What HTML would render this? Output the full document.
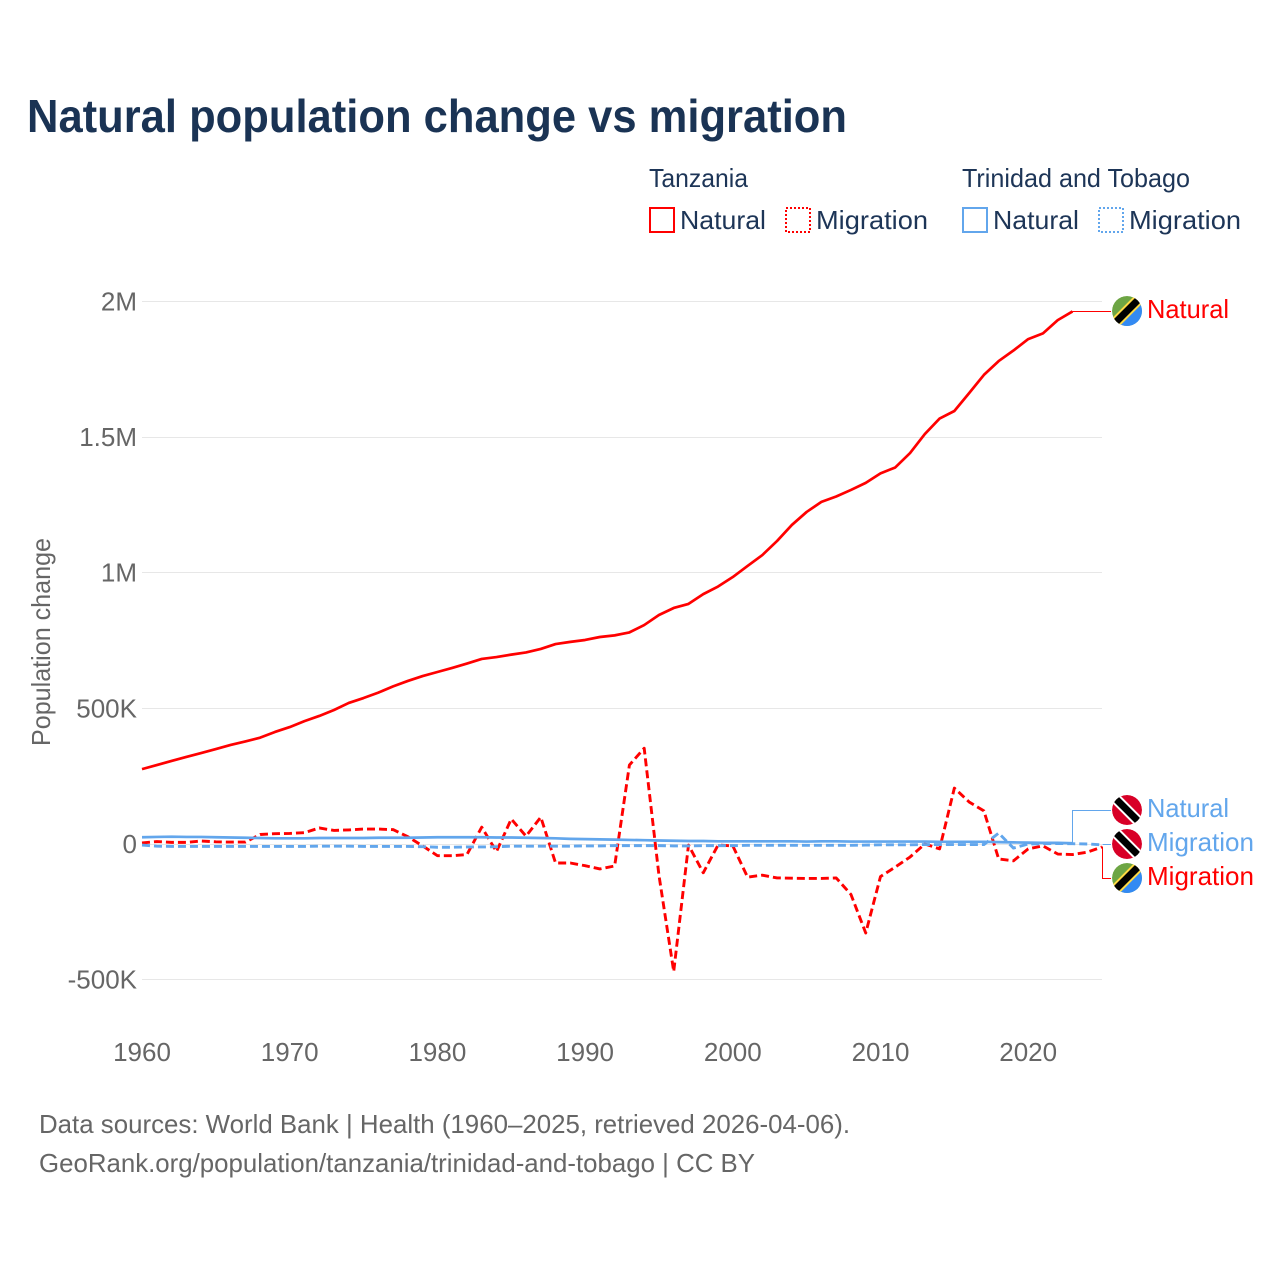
<!DOCTYPE html>
<html lang="en">
<head>
<meta charset="utf-8">
<title>Natural population change vs migration</title>
<style>
html,body{margin:0;padding:0;background:#fff;width:1280px;height:1280px;overflow:hidden}
svg{display:block;font-family:"Liberation Sans",sans-serif}
</style>
</head>
<body>
<svg id="chart" xmlns="http://www.w3.org/2000/svg" width="1280" height="1280" viewBox="0 0 1280 1280">
  <defs>
    <clipPath id="flag-clip-a"><circle cx="1127" cy="311" r="15"/></clipPath>
    <clipPath id="flag-clip-b"><circle cx="1127" cy="810" r="15"/></clipPath>
    <clipPath id="flag-clip-c"><circle cx="1127" cy="844" r="15"/></clipPath>
    <clipPath id="flag-clip-d"><circle cx="1127" cy="878" r="15"/></clipPath>
  </defs>
  <rect width="1280" height="1280" fill="#fff"/>
  <text x="27" y="132" font-size="46" font-weight="700" fill="#1a3354" textLength="820" lengthAdjust="spacingAndGlyphs">Natural population change vs migration</text>

  <g font-size="26" fill="#1d3557">
    <text x="649" y="187" textLength="99" lengthAdjust="spacingAndGlyphs">Tanzania</text>
    <text x="962" y="187" textLength="228" lengthAdjust="spacingAndGlyphs">Trinidad and Tobago</text>
    <rect x="650" y="208" width="24" height="24" fill="none" stroke="#ff0000" stroke-width="2"/>
    <text x="680" y="229" textLength="86" lengthAdjust="spacingAndGlyphs">Natural</text>
    <rect x="786" y="208" width="24" height="24" fill="none" stroke="#ff0000" stroke-width="2" stroke-dasharray="2,2"/>
    <text x="816" y="229" textLength="112" lengthAdjust="spacingAndGlyphs">Migration</text>
    <rect x="963" y="208" width="24" height="24" fill="none" stroke="#62a6ec" stroke-width="2"/>
    <text x="993" y="229" textLength="86" lengthAdjust="spacingAndGlyphs">Natural</text>
    <rect x="1099" y="208" width="24" height="24" fill="none" stroke="#62a6ec" stroke-width="2" stroke-dasharray="2,2"/>
    <text x="1129" y="229" textLength="112" lengthAdjust="spacingAndGlyphs">Migration</text>
  </g>

  <g id="grid"></g>
  <g id="y-ticks" font-size="26" fill="#666" text-anchor="end"></g>
  <g id="x-ticks" font-size="26" fill="#666" text-anchor="middle"></g>
  <text transform="translate(50,642) rotate(-90)" font-size="26" fill="#666" text-anchor="middle" textLength="208" lengthAdjust="spacingAndGlyphs">Population change</text>

  <g id="series"></g>
  <g id="connectors"></g>

  <g clip-path="url(#flag-clip-a)">
    <circle cx="1127" cy="311" r="15" fill="#6da544"/>
    <polygon points="1112,326 1142,296 1142,326" fill="#338af3"/>
    <line x1="1110" y1="328" x2="1144" y2="294" stroke="#ffda44" stroke-width="11"/>
    <line x1="1110" y1="328" x2="1144" y2="294" stroke="#000" stroke-width="7"/>
  </g>
  <g clip-path="url(#flag-clip-b)">
    <circle cx="1127" cy="810" r="15" fill="#d80027"/>
    <line x1="1110" y1="793" x2="1144" y2="827" stroke="#fff" stroke-width="11"/>
    <line x1="1110" y1="793" x2="1144" y2="827" stroke="#000" stroke-width="7"/>
  </g>
  <g clip-path="url(#flag-clip-c)">
    <circle cx="1127" cy="844" r="15" fill="#d80027"/>
    <line x1="1110" y1="827" x2="1144" y2="861" stroke="#fff" stroke-width="11"/>
    <line x1="1110" y1="827" x2="1144" y2="861" stroke="#000" stroke-width="7"/>
  </g>
  <g clip-path="url(#flag-clip-d)">
    <circle cx="1127" cy="878" r="15" fill="#6da544"/>
    <polygon points="1112,893 1142,863 1142,893" fill="#338af3"/>
    <line x1="1110" y1="895" x2="1144" y2="861" stroke="#ffda44" stroke-width="11"/>
    <line x1="1110" y1="895" x2="1144" y2="861" stroke="#000" stroke-width="7"/>
  </g>

  <g font-size="26">
    <text x="1147" y="318" fill="#ff0000" textLength="82" lengthAdjust="spacingAndGlyphs">Natural</text>
    <text x="1147" y="817" fill="#62a6ec" textLength="82" lengthAdjust="spacingAndGlyphs">Natural</text>
    <text x="1147" y="851" fill="#62a6ec" textLength="107" lengthAdjust="spacingAndGlyphs">Migration</text>
    <text x="1147" y="885" fill="#ff0000" textLength="107" lengthAdjust="spacingAndGlyphs">Migration</text>
  </g>

  <g font-size="26" fill="#666">
    <text x="39" y="1133" textLength="811" lengthAdjust="spacingAndGlyphs">Data sources: World Bank | Health (1960–2025, retrieved 2026-04-06).</text>
    <text x="39" y="1172" textLength="716" lengthAdjust="spacingAndGlyphs">GeoRank.org/population/tanzania/trinidad-and-tobago | CC BY</text>
  </g>
</svg>
<script>
const years = [1960,1961,1962,1963,1964,1965,1966,1967,1968,1969,1970,1971,1972,1973,1974,1975,1976,1977,1978,1979,1980,1981,1982,1983,1984,1985,1986,1987,1988,1989,1990,1991,1992,1993,1994,1995,1996,1997,1998,1999,2000,2001,2002,2003,2004,2005,2006,2007,2008,2009,2010,2011,2012,2013,2014,2015,2016,2017,2018,2019,2020,2021,2022,2023,2024,2025];
const tanzaniaNatural = [276,291,306,321,335,350,365,378,392,413,431,453,472,494,520,538,558,581,601,619,634,649,665,682,689,698,706,719,737,745,752,763,769,780,807,844,870,885,921,949,984,1025,1065,1117,1176,1224,1261,1281,1305,1331,1366,1388,1441,1511,1568,1596,1662,1729,1780,1819,1861,1882,1931,1963];
const tanzaniaMigration = [4,9,6,6,11,8,7,7,35,38,39,42,59,50,52,55,55,53,27,-7,-43,-43,-39,62,-28,92,29,99,-70,-70,-80,-92,-81,291,353,-115,-470,-4,-106,-4,-7,-122,-115,-125,-126,-127,-127,-125,-186,-328,-120,-85,-48,0,-18,206,155,122,-55,-62,-18,-7,-37,-39,-30,-11];
const trinidadNatural = [25,26,27,26,26,25,24,23,22,21,21,21,22,22,22,22,23,23,23,24,25,25,25,25,24,24,23,22,21,19,18,17,16,15,14,13,12,11,11,10,10,10,10,10,10,9,10,10,9,9,9,9,9,9,8,8,8,8,7,6,5,4,4,3];
const trinidadMigration = [-4,-8,-9,-9,-9,-9,-9,-9,-9,-9,-9,-9,-8,-8,-8,-9,-9,-9,-9,-10,-12,-12,-11,-11,-10,-8,-8,-8,-8,-8,-7,-7,-6,-6,-6,-6,-7,-7,-6,-6,-6,-5,-5,-5,-5,-5,-5,-5,-5,-4,-3,-3,-3,-2,-2,-2,-2,-2,40,-15,0,1,2,1,0,-3];
const yTickValues = [-500,0,500,1000,1500,2000];
const yTickLabels = ["-500K","0","500K","1M","1.5M","2M"];
const xTickValues = [1960,1970,1980,1990,2000,2010,2020];

const SVG_NS = "http://www.w3.org/2000/svg";
const RED = "#ff0000";
const BLUE = "#62a6ec";
function xScale(year){ return 142 + (year - 1960) * 14.77; }
function yScale(value){ return 844 - value * 0.2713; }
function snap(p){ return Math.floor(p) + 0.5; }
function make(tag, attrs, parent){
  const el = document.createElementNS(SVG_NS, tag);
  for (const k in attrs) el.setAttribute(k, attrs[k]);
  parent.appendChild(el);
  return el;
}
function linePoints(values){
  return values.map(function(v, i){ return xScale(years[i]).toFixed(2) + "," + yScale(v).toFixed(2); }).join(" ");
}
const grid = document.getElementById("grid");
const yTicks = document.getElementById("y-ticks");
const xTicks = document.getElementById("x-ticks");
const series = document.getElementById("series");
const connectors = document.getElementById("connectors");

yTickValues.forEach(function(v, i){
  const g = make("line", {x1:142, x2:1102, y1:snap(yScale(v)), y2:snap(yScale(v)), stroke:"#e7e7e7", "stroke-width":1}, grid);
  
  
  const t = make("text", {x:137, y:yScale(v) + 9}, yTicks);
  t.textContent = yTickLabels[i];
  
  
});
xTickValues.forEach(function(y){
  const t = make("text", {x:xScale(y), y:1061}, xTicks);
  t.textContent = String(y);
  
  
});

const l1 = make("polyline", {points:linePoints(tanzaniaNatural), fill:"none", stroke:RED, "stroke-width":2.7, "stroke-linejoin":"round"}, series);


const l2 = make("polyline", {points:linePoints(tanzaniaMigration), fill:"none", stroke:RED, "stroke-width":2.9, "stroke-dasharray":"8,4", "stroke-linejoin":"round"}, series);


const l3 = make("polyline", {points:linePoints(trinidadNatural), fill:"none", stroke:BLUE, "stroke-width":2.7, "stroke-linejoin":"round"}, series);


const l4 = make("polyline", {points:linePoints(trinidadMigration), fill:"none", stroke:BLUE, "stroke-width":2.9, "stroke-dasharray":"8,4", "stroke-linejoin":"round"}, series);



function endPoint(values){
  const i = values.length - 1;
  return [snap(xScale(years[i])), snap(yScale(values[i]))];
}
const e1 = endPoint(tanzaniaNatural);
const e2 = endPoint(trinidadNatural);
const e3 = endPoint(trinidadMigration);
const e4 = endPoint(tanzaniaMigration);
const c1 = make("polyline", {points:e1[0]+","+e1[1]+" 1111,"+e1[1], fill:"none", stroke:RED, "stroke-width":1}, connectors);


const c2 = make("polyline", {points:e2[0]+","+e2[1]+" "+e2[0]+",810.500 1111,810.500", fill:"none", stroke:BLUE, "stroke-width":1}, connectors);


const c3 = make("polyline", {points:e3[0]+","+e3[1]+" 1111,"+e3[1], fill:"none", stroke:BLUE, "stroke-width":1}, connectors);


const c4 = make("polyline", {points:e4[0]+","+e4[1]+" "+e4[0]+",878.500 1111,878.500", fill:"none", stroke:RED, "stroke-width":1}, connectors);


</script>
</body>
</html>
